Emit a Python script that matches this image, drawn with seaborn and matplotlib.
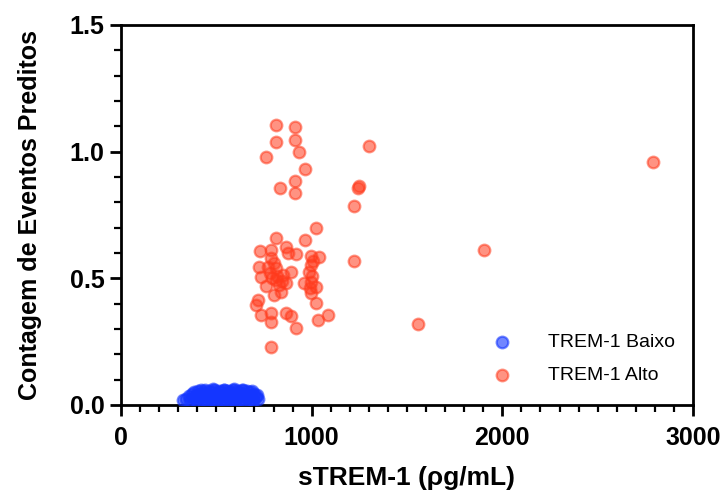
import matplotlib.pyplot as plt
import seaborn as sns
import pandas as pd
from matplotlib.ticker import MultipleLocator

# TREM-1 Alto (red)
alto_x = [814, 915, 814, 915, 936, 762, 1302, 967, 915, 836, 915, 1249, 1245, 1223,
          2791, 1903, 1558, 1223,
          814, 1023, 967, 727, 788, 866, 875, 918, 997, 1040, 788, 723, 770, 814,
          997, 892, 988, 735, 790, 812, 849, 866, 831, 962, 1023, 997, 805, 840,
          997, 718, 709, 1023, 735, 788, 788, 866, 892, 1031, 1084, 918, 788,
          780, 800, 820, 845, 1000, 1005, 990, 760]
alto_y = [1.105, 1.099, 1.037, 1.046, 1.0, 0.98, 1.022, 0.932, 0.884, 0.855, 0.838, 0.865, 0.855, 0.786,
          0.959, 0.612, 0.32, 0.568,
          0.661, 0.697, 0.651, 0.608, 0.612, 0.625, 0.599, 0.595, 0.589, 0.585, 0.579, 0.546, 0.546, 0.539,
          0.553, 0.526, 0.526, 0.507, 0.5, 0.495, 0.513, 0.48, 0.474, 0.48, 0.467, 0.487, 0.434, 0.447,
          0.441, 0.415, 0.395, 0.401, 0.355, 0.362, 0.329, 0.362, 0.353, 0.336, 0.355, 0.303, 0.23,
          0.52, 0.56, 0.51, 0.49, 0.51, 0.57, 0.46, 0.47]

# TREM-1 Baixo (blue)
baixo_x = [325, 340, 355, 362, 370, 378, 385, 392, 398, 405, 410, 418, 423, 430, 436, 442,
           448, 452, 458, 463, 468, 474, 480, 485, 490, 495, 500, 506, 512, 517, 522, 528,
           533, 538, 544, 550, 555, 560, 566, 571, 577, 582, 588, 593, 598, 604, 610, 615,
           620, 626, 632, 637, 642, 648, 654, 660, 665, 671, 676, 682, 688, 694, 700, 706,
           712, 718, 400, 450, 500, 550, 600, 650, 420, 480, 540, 590, 640, 690]
baixo_y = [0.02, 0.025, 0.035, 0.02, 0.045, 0.03, 0.05, 0.025, 0.04, 0.055, 0.03, 0.045, 0.02, 0.05,
           0.035, 0.058, 0.025, 0.045, 0.03, 0.055, 0.04, 0.02, 0.05, 0.035, 0.06, 0.025, 0.045, 0.03,
           0.055, 0.04, 0.02, 0.05, 0.035, 0.06, 0.025, 0.045, 0.03, 0.055, 0.04, 0.02, 0.05, 0.035,
           0.058, 0.025, 0.045, 0.03, 0.055, 0.04, 0.02, 0.05, 0.035, 0.06, 0.025, 0.045, 0.03, 0.055,
           0.04, 0.02, 0.05, 0.035, 0.055, 0.025, 0.045, 0.03, 0.04, 0.025, 0.01, 0.015, 0.012, 0.01,
           0.015, 0.012, 0.06, 0.062, 0.06, 0.062, 0.058, 0.015]

df_alto = pd.DataFrame({'x': alto_x, 'y': alto_y})
df_baixo = pd.DataFrame({'x': baixo_x, 'y': baixo_y})

sns.set_style('ticks')
plt.rcParams['font.family'] = ['Liberation Sans', 'DejaVu Sans']
plt.rcParams['text.color'] = 'black'
plt.rcParams['axes.labelcolor'] = 'black'
plt.rcParams['xtick.color'] = 'black'
plt.rcParams['ytick.color'] = 'black'

fig = plt.figure(figsize=(7.26, 4.99), dpi=100)
ax = fig.add_axes([0.1667, 0.1884, 0.7878, 0.7616])

blue = '#1436ff'
red = '#ff3a1c'
sns.scatterplot(data=df_baixo, x='x', y='y', ax=ax, color=blue, edgecolor=blue,
                alpha=0.6, s=70, linewidth=1.6, label='TREM-1 Baixo', zorder=3)
sns.scatterplot(data=df_alto, x='x', y='y', ax=ax, color=red, edgecolor=red,
                alpha=0.55, s=70, linewidth=1.6, label='TREM-1 Alto', zorder=3)

ax.set_xlim(0, 3000)
ax.set_ylim(0, 1.5)
ax.xaxis.set_major_locator(MultipleLocator(1000))
ax.xaxis.set_minor_locator(MultipleLocator(100))
ax.yaxis.set_major_locator(MultipleLocator(0.5))
ax.yaxis.set_minor_locator(MultipleLocator(0.1))
ax.yaxis.set_major_formatter(plt.FuncFormatter(lambda v, p: f'{v:.1f}'))

for s in ax.spines.values():
    s.set_linewidth(2)
    s.set_color('black')
ax.tick_params(which='major', length=8, width=2, labelsize=18, pad=4,
               color='black', labelcolor='black')
ax.tick_params(axis='x', which='major', pad=7)
ax.tick_params(which='minor', length=5, width=1.6, color='black')
for lab in ax.get_xticklabels() + ax.get_yticklabels():
    lab.set_fontweight('bold')

ax.set_xlabel('sTREM-1 (ρg/mL)', fontsize=19, fontweight='bold', labelpad=12)
ax.set_ylabel('Contagem de Eventos Preditos', fontsize=18, fontweight='bold', labelpad=20)

leg = ax.legend(loc='lower right', frameon=False, fontsize=14, handletextpad=1.4,
                bbox_to_anchor=(1.0, 0.01), labelspacing=0.75, markerscale=1.0)

fig.savefig('out.png', dpi=100)
plt.close()
